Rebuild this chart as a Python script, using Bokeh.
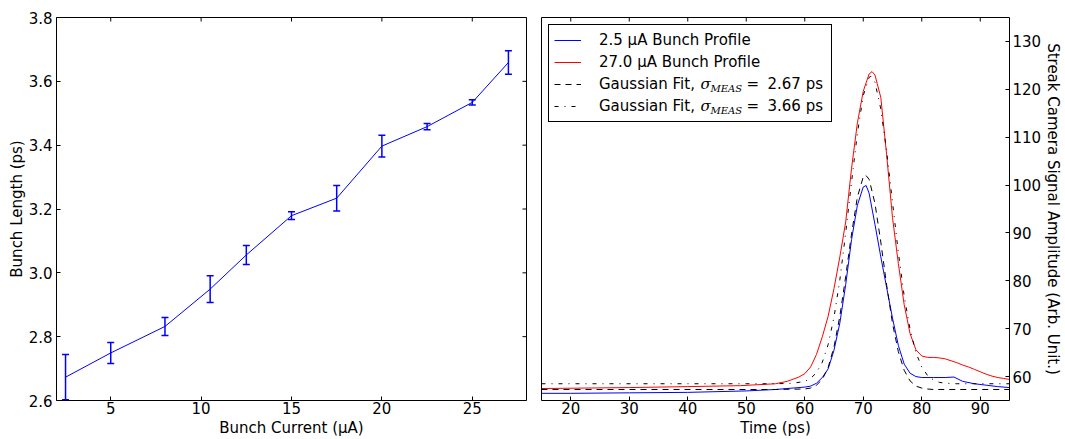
import math
from bokeh.plotting import figure
from bokeh.models import (ColumnDataSource, Whisker, TeeHead, FixedTicker,
                          Range1d, Label, Legend, LegendItem)
from bokeh.layouts import row
from bokeh.embed import file_html
from bokeh.resources import INLINE

# ---------------- data: left panel ----------------
current_uA = [2.5, 5.0, 8.0, 10.5, 12.5, 15.0, 17.5, 20.0, 22.5, 25.0, 27.0]
length_ps = [2.673, 2.749, 2.832, 2.949, 3.056, 3.179, 3.234, 3.397, 3.458, 3.534, 3.659]
length_err = [0.071, 0.033, 0.028, 0.042, 0.030, 0.012, 0.040, 0.034, 0.010, 0.008, 0.037]

left_xticks = [5, 10, 15, 20, 25]
left_xlabels = ["5", "10", "15", "20", "25"]
left_yticks = [2.6, 2.8, 3.0, 3.2, 3.4, 3.6, 3.8]
left_ylabels = ["2.6", "2.8", "3.0", "3.2", "3.4", "3.6", "3.8"]

# ---------------- data: right panel ----------------
blue_t = [15, 20, 30, 40, 50, 55, 58, 60, 61, 62, 63, 64, 65, 66, 67, 68, 69, 70, 70.5,
          71, 72, 73, 74, 75, 76, 77, 78, 79, 80, 82, 84, 85.5, 87, 89, 91, 93, 95]
blue_amp = [56.5, 56.5, 56.6, 56.7, 57.0, 57.3, 57.6, 57.8, 58.0, 58.6, 59.8, 61.6, 65.5,
            71.2, 79.2, 88.6, 95.8, 99.6, 99.9, 98.3, 91.8, 85.0, 78.6, 72.2, 66.5, 62.6,
            60.7, 60.0, 59.8, 59.8, 59.8, 59.9, 59.0, 58.5, 58.2, 57.9, 57.7]

red_t = [15, 30, 40, 49, 55, 57, 59, 60, 61, 62, 63, 64, 65, 66, 67, 68, 69, 70, 71, 71.5,
         72, 73, 74, 75, 76, 77, 78, 79, 80, 81, 82, 83, 84, 85, 86, 87, 88, 89, 90, 91,
         92, 93, 94, 95]
red_amp = [57.5, 57.7, 57.9, 58.1, 58.5, 59.0, 59.9, 60.6, 62.0, 64.6, 68.3, 72.6, 78.4,
           85.0, 92.3, 103.5, 113.0, 119.6, 123.2, 123.7, 123.0, 118.3, 106.3, 93.2, 83.6,
           75.0, 69.0, 65.6, 64.3, 64.0, 64.0, 63.9, 63.7, 63.3, 62.9, 62.4, 62.0, 61.5,
           61.0, 60.5, 60.1, 59.8, 59.6, 59.4]

fit1_t = [15, 55, 60, 61, 62, 63, 64, 65, 66, 67, 68, 69, 70, 70.4, 71, 72, 73, 74, 75,
          76, 77, 78, 79, 80, 81, 82, 95]
fit1_amp = [57.3, 57.3, 57.4, 57.6, 58.2, 59.4, 61.9, 66.2, 72.6, 80.9, 89.8, 97.5, 101.7,
            102.1, 101.2, 96.2, 88.1, 79.1, 71.1, 65.2, 61.3, 59.1, 58.0, 57.6, 57.4, 57.3,
            57.3]

fit2_t = [15, 55, 58, 60, 61, 62, 63, 64, 65, 66, 67, 68, 69, 70, 71, 71.3, 72, 73, 74,
          75, 76, 77, 78, 79, 80, 81, 82, 83, 84, 86, 95]
fit2_amp = [58.5, 58.5, 58.6, 59.0, 59.6, 60.8, 63.0, 66.7, 72.4, 80.2, 90.0, 100.7, 110.8,
            118.7, 122.5, 122.7, 121.5, 115.9, 107.0, 96.4, 85.9, 76.8, 69.9, 65.0, 62.0,
            60.2, 59.3, 58.8, 58.6, 58.5, 58.5]

right_xticks = [20, 30, 40, 50, 60, 70, 80, 90]
right_xlabels = ["20", "30", "40", "50", "60", "70", "80", "90"]
right_yticks = [60, 70, 80, 90, 100, 110, 120, 130]
right_ylabels = ["60", "70", "80", "90", "100", "110", "120", "130"]

legend_labels = ["2.5 \u03bcA Bunch Profile", "27.0 \u03bcA Bunch Profile",
                 "Gaussian Fit,", "Gaussian Fit,"]
fit_values = ["2.67 ps", "3.66 ps"]

BLUE = "#0000ff"
RED = "#ff0000"
FONT = "DejaVu Sans"
FS = "15px"
TICK = 4


def style_axis(ax, ticks, labels, standoff, label_standoff):
    ax.ticker = FixedTicker(ticks=ticks)
    ax.major_label_overrides = {t: l for t, l in zip(ticks, labels)}
    ax.axis_line_color = None
    ax.major_tick_in = TICK
    ax.major_tick_out = 0
    ax.major_tick_line_color = "black"
    ax.major_tick_line_width = 1
    ax.minor_tick_line_color = None
    ax.major_label_text_font = FONT
    ax.major_label_text_color = "black"
    ax.major_label_text_font_size = FS
    ax.major_label_standoff = standoff
    ax.axis_label_text_font = FONT
    ax.axis_label_text_font_size = FS
    ax.axis_label_text_font_style = "normal"
    ax.axis_label_text_color = "black"
    ax.axis_label_standoff = label_standoff


def base_style(p):
    p.outline_line_color = "black"
    p.outline_line_width = 1
    p.outline_line_alpha = 1
    p.xgrid.visible = False
    p.ygrid.visible = False
    p.background_fill_color = "white"
    p.border_fill_color = "white"


def edge_ticks(p, xticks, x_top, yticks=None, y_right=None):
    # inward tick marks on the top (and right) frame edges; the glyph is clipped by the frame
    p.scatter(x=xticks, y=[x_top] * len(xticks), marker="dash", angle=math.pi / 2,
              size=2 * TICK, line_color="black", line_width=1)
    if yticks is not None:
        p.scatter(x=[y_right] * len(yticks), y=yticks, marker="dash",
                  size=2 * TICK, line_color="black", line_width=1)


# ---------------- left panel ----------------
p1 = figure(frame_width=470, frame_height=383, x_range=Range1d(2, 28), y_range=Range1d(2.6, 3.8),
            output_backend="svg", toolbar_location=None,
            min_border_left=56, min_border_right=8, min_border_top=17, min_border_bottom=0,
            x_axis_label="Bunch Current (\u03bcA)", y_axis_label="Bunch Length (ps)")
base_style(p1)
style_axis(p1.xaxis[0], left_xticks, left_xlabels, 1, 2)
style_axis(p1.yaxis[0], left_yticks, left_ylabels, 4, 0)
edge_ticks(p1, left_xticks, p1.y_range.end, left_yticks, p1.x_range.end)

src = ColumnDataSource(dict(
    x=current_uA, y=length_ps,
    upper=[v + e for v, e in zip(length_ps, length_err)],
    lower=[v - e for v, e in zip(length_ps, length_err)]))
p1.line("x", "y", source=src, line_color=BLUE, line_width=1)
whisk = Whisker(base="x", upper="upper", lower="lower", source=src,
                line_color=BLUE, line_width=1.5,
                upper_head=TeeHead(size=7, line_color=BLUE, line_width=1.5),
                lower_head=TeeHead(size=7, line_color=BLUE, line_width=1.5))
p1.add_layout(whisk)

# ---------------- right panel ----------------
p2 = figure(frame_width=468, frame_height=383, x_range=Range1d(15, 95), y_range=Range1d(55, 135),
            output_backend="svg", toolbar_location=None, y_axis_location="right",
            min_border_left=7, min_border_right=0, min_border_top=17, min_border_bottom=0,
            x_axis_label="Time (ps)", y_axis_label="Streak Camera Signal Amplitude (Arb. Unit.)")
base_style(p2)
style_axis(p2.xaxis[0], right_xticks, right_xlabels, 1, 2)
style_axis(p2.yaxis[0], right_yticks, right_ylabels, 3, 0)
edge_ticks(p2, right_xticks, p2.y_range.end)

r_blue = p2.line(blue_t, blue_amp, line_color=BLUE, line_width=1)
r_red = p2.line(red_t, red_amp, line_color=RED, line_width=1)
r_fit1 = p2.line(fit1_t, fit1_amp, line_color="black", line_width=1, line_dash="6 5")
r_fit2 = p2.line(fit2_t, fit2_amp, line_color="black", line_width=1, line_dash="4 6 1 6")

legend = Legend(items=[LegendItem(label=legend_labels[0], renderers=[r_blue]),
                       LegendItem(label=legend_labels[1], renderers=[r_red]),
                       LegendItem(label=legend_labels[2], renderers=[r_fit1]),
                       LegendItem(label=legend_labels[3], renderers=[r_fit2])],
                location="top_left", margin=7, padding=5, spacing=2,
                glyph_width=27, glyph_height=20, label_height=20, label_width=227,
                label_standoff=18, label_text_font=FONT, label_text_font_size=FS,
                label_text_color="black",
                border_line_color="black", border_line_width=1, border_line_alpha=1,
                background_fill_alpha=0)
p2.add_layout(legend)

# subscripted sigma parts of the two fit entries, placed in the legend rows
FRAME_L, FRAME_T, FRAME_W, FRAME_H = 541, 17, 468, 383


def sx(px):
    return 15 + (px - FRAME_L) * 80 / FRAME_W


def sy(py):
    return 135 - (py - FRAME_T) * 80 / FRAME_H


row_centers = [83, 105]
for rc, fv in zip(row_centers, fit_values):
    p2.add_layout(Label(x=sx(700), y=sy(rc), text="\u03c3", text_font="DejaVu Serif",
                        text_font_style="italic", text_font_size="15px",
                        text_baseline="middle", text_align="left", text_color="black"))
    p2.add_layout(Label(x=sx(710), y=sy(rc + 5), text="MEAS", text_font="DejaVu Serif",
                        text_font_style="italic", text_font_size="10px",
                        text_baseline="middle", text_align="left", text_color="black"))
    p2.add_layout(Label(x=sx(746), y=sy(rc), text="=", text_font=FONT,
                        text_font_size=FS, text_baseline="middle", text_align="left",
                        text_color="black"))
    p2.add_layout(Label(x=sx(767), y=sy(rc), text=fv, text_font=FONT,
                        text_font_size=FS, text_baseline="middle", text_align="left",
                        text_color="black"))

layout = row(p1, p2)
open("out.html", "w").write(file_html(layout, INLINE))
